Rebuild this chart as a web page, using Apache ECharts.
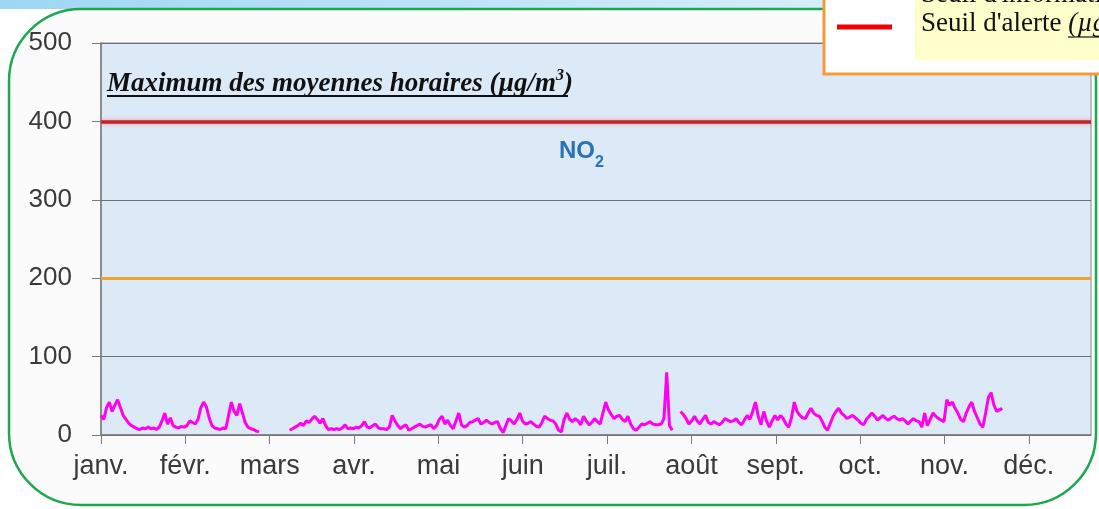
<!DOCTYPE html>
<html>
<head>
<meta charset="utf-8">
<title>NO2 - Maximum des moyennes horaires</title>
<script src="https://cdn.jsdelivr.net/npm/echarts@6/dist/echarts.min.js"></script>
<style>
	html, body { margin: 0; padding: 0; background: #ffffff; }
	#chart { width: 1099px; height: 509px; }
</style>
</head>
<body>
<div id="chart"></div>
<script>
// mois affichés sous l'axe (un tick tous les 365/12 jours)
var months = ["janv.", "févr.", "mars", "avr.", "mai", "juin", "juil.", "août", "sept.", "oct.", "nov.", "déc."];
var yTicks = [0, 100, 200, 300, 400, 500];
// seuils
var seuilInfo = 200;
var seuilAlerte = 400;
// maximum journalier des moyennes horaires, un point par jour depuis le 1er janvier (null = pas de mesure)
var no2Max = [
	25, 20, 35, 42, 30, 38, 45, 35, 25, 20,
	15, 12, 10, 8, 7, 9, 8, 10, 8, 9,
	7, 10, 18, 28, 14, 22, 12, 10, 9, 11,
	10, 12, 18, 16, 14, 20, 35, 42, 36, 22,
	12, 9, 8, 7, 9, 8, 25, 42, 30, 25,
	40, 28, 16, 10, 8, 7, 5, 4,
	null, null, null, null, null, null, null, null, null, null,
	6, 8, 10, 12, 15, 12, 18, 16, 20, 24,
	20, 15, 21, 12, 7, 8, 7, 8, 7, 9,
	13, 8, 9, 8, 10, 9, 12, 17, 10, 9,
	12, 14, 9, 8, 8, 7, 10, 25, 18, 12,
	8, 11, 13, 6, 8, 10, 12, 14, 11, 10,
	12, 13, 8, 12, 20, 24, 14, 19, 12, 8,
	18, 28, 13, 10, 12, 16, 17, 19, 21, 14,
	16, 19, 16, 14, 16, 17, 8, 3, 12, 21,
	18, 14, 20, 28, 18, 14, 15, 17, 14, 11,
	10, 16, 24, 21, 19, 18, 14, 6, 4, 20,
	28, 20, 17, 21, 18, 13, 24, 18, 13, 16,
	21, 17, 14, 28, 42, 32, 26, 21, 24, 25,
	20, 17, 24, 14, 8, 6, 10, 14, 13, 15,
	17, 14, 13, 13, 14, 21, 80, 12, 6,
	null, null,
	30, 26, 21, 14, 18, 24, 18, 14, 20, 25,
	16, 14, 17, 15, 13, 16, 21, 19, 17, 18,
	21, 16, 13, 19, 25, 20, 30, 42, 24, 13,
	30, 18, 10, 18, 25, 19, 25, 21, 14, 10,
	22, 42, 30, 25, 22, 21, 28, 34, 28, 25,
	24, 18, 10, 6, 15, 24, 30, 34, 28, 25,
	21, 23, 25, 22, 19, 15, 13, 20, 24, 28,
	24, 19, 22, 25, 21, 19, 22, 24, 21, 19,
	21, 18, 14, 18, 21, 18, 17, 10, 28, 12,
	20, 28, 24, 21, 19, 17, 45, 38, 42, 34,
	28, 20, 17, 28, 36, 42, 30, 22, 14, 10,
	28, 48, 54, 38, 30, 32, 34
];
var lastDay = 357;
var monthStep = 365 / 12;

window.onload = function () {
	var chart = echarts.init(document.getElementById("chart"));
	var points = no2Max.map(function (v, i) { return [i, v]; });
	var serif = "Liberation Serif, Times New Roman, serif";
	var sans = "Liberation Sans, Arial, sans-serif";

	var option = {
		backgroundColor: "#ffffff",
		animation: false,
		grid: {
			left: 101,
			right: 8,
			top: 43,
			bottom: 74,
			show: true,
			backgroundColor: "#dce9f7",
			borderColor: "#8c8c8c",
			borderWidth: 1
		},
		xAxis: {
			type: "value",
			min: 0,
			max: lastDay,
			interval: monthStep,
			axisLine: { lineStyle: { color: "#7a7a7a", width: 1.5 } },
			axisTick: { show: true, length: 9, lineStyle: { color: "#7a7a7a" } },
			splitLine: { show: false },
			axisLabel: {
				margin: 18,
				fontSize: 27,
				fontFamily: sans,
				color: "#3a3a3a",
				showMaxLabel: false,
				formatter: function (v) {
					var i = Math.round(v / monthStep);
					if (Math.abs(v - i * monthStep) > 0.5) return "";
					return months[i] || "";
				}
			}
		},
		yAxis: {
			type: "value",
			min: yTicks[0],
			max: yTicks[yTicks.length - 1],
			interval: yTicks[1] - yTicks[0],
			axisLine: { show: true, lineStyle: { color: "#7a7a7a", width: 1.5 } },
			axisTick: { show: true, length: 9, lineStyle: { color: "#7a7a7a" } },
			splitLine: { show: true, lineStyle: { color: "#6f6f6f", width: 1 } },
			axisLabel: {
				margin: 29,
				fontSize: 26,
				fontFamily: sans,
				color: "#3a3a3a"
			}
		},
		series: [{
			type: "line",
			data: points,
			showSymbol: false,
			connectNulls: false,
			lineStyle: { color: "#ff00f0", width: 3 },
			z: 5,
			markLine: {
				silent: true,
				symbol: "none",
				label: { show: false },
				data: [
					{ yAxis: seuilInfo, lineStyle: { color: "#f0a232", width: 3, type: "solid" } },
					{ yAxis: seuilAlerte, lineStyle: { color: "#c0262c", width: 3.5, type: "solid", shadowColor: "rgba(255,120,140,0.8)", shadowBlur: 4 } }
				]
			}
		}],
		graphic: [
			{
				// bande bleue en haut
				type: "rect",
				z: -20,
				shape: { x: 0, y: 0, width: 823, height: 9 },
				style: {
					fill: new echarts.graphic.LinearGradient(0, 0, 1, 0, [
						{ offset: 0, color: "#9fd6f4" },
						{ offset: 1, color: "#d6eefb" }
					])
				}
			},
			{
				// cadre vert arrondi
				type: "rect",
				z: -10,
				shape: { x: 9, y: 9, width: 1087, height: 496, r: 72 },
				style: { fill: "#fbfbfb", stroke: "#1ca84c", lineWidth: 2.5 }
			},
			{
				type: "text",
				z: 50,
				left: 107,
				top: 68,
				style: {
					text: "{a|Maximum des moyennes horaires (µg/m}{s|3}{a|)}",
					rich: {
						a: { fontFamily: serif, fontSize: 27, fontWeight: "bold", fontStyle: "italic", fill: "#111111", lineHeight: 30, verticalAlign: "bottom" },
						s: { fontFamily: serif, fontSize: 16, fontWeight: "bold", fontStyle: "italic", fill: "#111111", lineHeight: 30, verticalAlign: "top" }
					}
				}
			},
			{
				type: "line",
				z: 50,
				shape: { x1: 107, y1: 96, x2: 568, y2: 96 },
				style: { stroke: "#111111", lineWidth: 2 }
			},
			{
				type: "text",
				z: 50,
				left: 559,
				top: 139,
				style: {
					text: "{n|NO}{s|2}",
					rich: {
						n: { fontFamily: sans, fontSize: 24, fontWeight: "bold", fill: "#2a72b8", lineHeight: 32, verticalAlign: "top" },
						s: { fontFamily: sans, fontSize: 16, fontWeight: "bold", fill: "#2a72b8", lineHeight: 32, verticalAlign: "bottom" }
					}
				}
			},
			// encadré des seuils (coupé par le bord)
			{
				type: "rect",
				z: 100,
				shape: { x: 824, y: -10, width: 300, height: 84 },
				style: { fill: "#ffffff", stroke: "#f7993a", lineWidth: 3 }
			},
			{
				type: "rect",
				z: 101,
				shape: { x: 915, y: -5, width: 190, height: 65 },
				style: { fill: "#ffffcc" }
			},
			{
				type: "line",
				z: 102,
				shape: { x1: 837, y1: 27, x2: 892, y2: 27 },
				style: { stroke: "#f00000", lineWidth: 5 }
			},
			{
				type: "text",
				z: 102,
				x: 921,
				y: -5,
				style: {
					text: "Seuil d'information (µg/m3) : 200",
					fontFamily: serif,
					fontSize: 27,
					fill: "#111111",
					verticalAlign: "middle"
				}
			},
			{
				type: "text",
				z: 102,
				x: 921,
				y: 24,
				style: {
					text: "Seuil d'alerte {i|(µg/m3) : 400}",
					fontFamily: serif,
					fontSize: 27,
					fill: "#111111",
					verticalAlign: "middle",
					rich: {
						i: { fontFamily: serif, fontSize: 27, fontStyle: "italic", fill: "#111111" }
					}
				}
			},
			{
				type: "line",
				z: 102,
				shape: { x1: 1068, y1: 37, x2: 1099, y2: 37 },
				style: { stroke: "#111111", lineWidth: 1.2 }
			}
		]
	};
	chart.setOption(option);
};
</script>
</body>
</html>
